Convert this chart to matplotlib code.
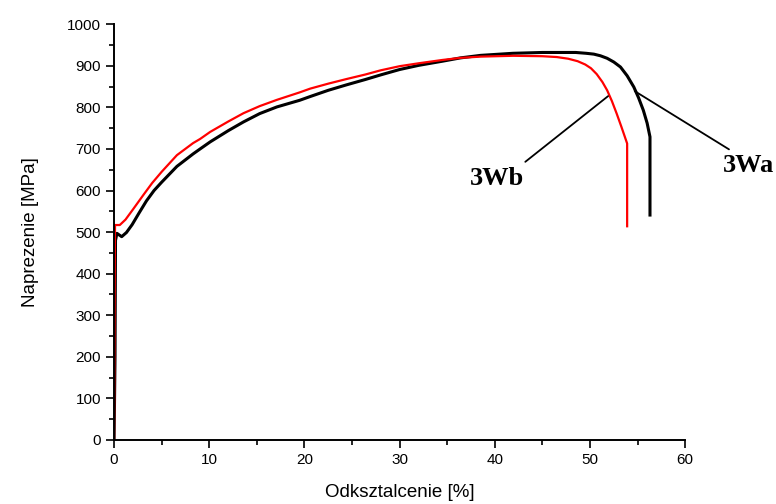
import matplotlib
matplotlib.use('Agg')
import matplotlib.pyplot as plt
from matplotlib.ticker import MultipleLocator

# Krzywe rozciagania: odksztalcenie [%] i naprezenie [MPa]
strain_3wa = [0, 0.1, 0.15, 0.3, 0.8, 1.3, 1.9, 2.6, 3.4, 4.2, 5, 6.6, 8.3, 9.04,
              10.1, 12, 13.6, 15.3, 17.1, 19.5, 20.6, 22.5, 24.4, 26.4, 28, 30,
              32, 34.5, 36.4, 38.5, 41.9, 45, 48.5, 49.6, 50.4, 51.1, 51.8, 52.5,
              53.2, 53.9, 54.6, 55.1, 55.6, 56, 56.3, 56.3]
stress_3wa = [0, 200, 480, 497, 489, 499, 518, 545, 575, 600, 620, 658, 688, 700,
              717, 744, 765, 785, 801, 817, 826, 841, 854, 867, 878, 891,
              901, 911, 919, 925, 930, 932, 932, 930, 928, 924, 918, 909,
              897, 876, 849, 823, 793, 762, 729, 541]

strain_3wb = [0, 0.05, 0.1, 0.6, 1.2, 2, 3.1, 4, 5, 6.6, 8.3, 9.04, 10.1, 12,
              13.6, 15.3, 17.1, 19.5, 20.6, 22.5, 24.4, 26.4, 28, 30, 32, 34.5,
              36.4, 38.5, 41.9, 45, 46.5, 47.7, 48.7, 49.5, 50.1, 50.7, 51.3,
              51.8, 52.3, 52.8, 53.3, 53.9, 53.9]
stress_3wb = [0, 300, 517, 517, 530, 555, 590, 618, 645, 685, 714, 724, 741, 766,
              786, 803, 818, 836, 845, 857, 868, 879, 889, 899, 906, 914,
              919, 922, 924, 923, 921, 917, 911, 903, 894, 880, 861,
              841, 815, 785, 753, 713, 514]

plt.rcParams['font.family'] = ['Liberation Sans', 'DejaVu Sans']

fig = plt.figure(figsize=(7.76, 5.04), dpi=100)
ax = fig.add_axes([0.147, 0.127, 0.736, 0.825])

ax.plot(strain_3wa, stress_3wa, color='black', linewidth=2.2)
ax.plot(strain_3wb, stress_3wb, color='#ff0000', linewidth=1.6)

ax.set_xlim(0, 60)
ax.set_ylim(0, 1000)
ax.xaxis.set_major_locator(MultipleLocator(10))
ax.xaxis.set_minor_locator(MultipleLocator(5))
ax.yaxis.set_major_locator(MultipleLocator(100))
ax.yaxis.set_minor_locator(MultipleLocator(50))
ax.tick_params(which='major', direction='out', length=6, width=1.2, labelsize=11)
ax.tick_params(which='minor', direction='out', length=3.5, width=1.2)
ax.spines['top'].set_visible(False)
ax.spines['right'].set_visible(False)
ax.spines['left'].set_linewidth(1.4)
ax.spines['bottom'].set_linewidth(1.4)

ax.set_xlabel('Odksztalcenie [%]', fontsize=13.5, labelpad=12)
ax.set_ylabel('Naprezenie [MPa]', fontsize=13.5, labelpad=20)

# Opisy krzywych
lab_font = dict(family='Liberation Serif', fontweight='bold', fontsize=19)
ax.annotate('', xy=(51.9, 827), xytext=(43.2, 669),
            arrowprops=dict(arrowstyle='-', color='black', lw=1.3,
                            shrinkA=0, shrinkB=0),
            annotation_clip=False)
ax.text(40.2, 630, '3Wb', ha='center', va='center', **lab_font)
ax.annotate('', xy=(54.7, 839), xytext=(64.6, 699),
            arrowprops=dict(arrowstyle='-', color='black', lw=1.3,
                            shrinkA=0, shrinkB=0),
            annotation_clip=False)
ax.text(66.7, 660, '3Wa', ha='center', va='center', clip_on=False, **lab_font)

fig.savefig('out.png', dpi=100)
